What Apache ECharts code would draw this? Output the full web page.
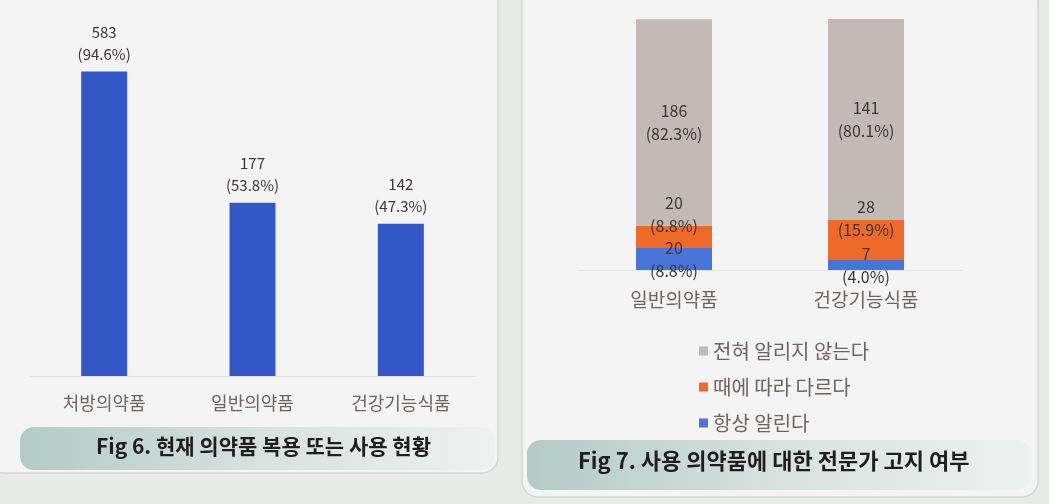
<!DOCTYPE html>
<html><head><meta charset="utf-8">
<script src="https://cdn.jsdelivr.net/npm/echarts@6/dist/echarts.min.js"></script>
<style>html,body{margin:0;padding:0;background:#e8eae8;}#c{width:1049px;height:504px;}</style>
</head><body><div id="c"></div>
<script>
// Fig 6 data
const fig6Categories = ['처방의약품', '일반의약품', '건강기능식품'];
const fig6Counts = [583, 177, 142];
const fig6Percents = [94.6, 53.8, 47.3];
// Fig 7 data
const fig7Categories = ['일반의약품', '건강기능식품'];
const fig7SeriesNames = ['항상 알린다', '때에 따라 다르다', '전혀 알리지 않는다'];
const fig7AlwaysCounts = [20, 7];
const fig7AlwaysPercents = [8.8, 4.0];
const fig7SometimesCounts = [20, 28];
const fig7SometimesPercents = [8.8, 15.9];
const fig7NeverCounts = [186, 141];
const fig7NeverPercents = [82.3, 80.1];
const fig6Title = 'Fig 6. 현재 의약품 복용 또는 사용 현황';
const fig7Title = 'Fig 7. 사용 의약품에 대한 전문가 고지 여부';

const FONT = '"Noto Sans CJK KR", "Noto Sans", sans-serif';
const labelColor = '#3d3535';
const catColor = '#6e6462';

function withLabels(counts, percents) {
  return percents.map((p, i) => ({ value: p, count: counts[i] }));
}
const fmt = p => p.data.count + '\n(' + p.data.value.toFixed(1) + '%)';

const chart = echarts.init(document.getElementById('c'));
const captionGrad = new echarts.graphic.LinearGradient(0, 0, 1, 0, [
  { offset: 0, color: '#b3cbc6' }, { offset: 0.5, color: '#d7e2df' }, { offset: 1, color: '#eef1ef' }
]);
chart.setOption({
  backgroundColor: '#e8eae8',
  textStyle: { fontFamily: FONT },
  graphic: [
    { type: 'rect', z: -10, shape: { x: -12, y: -14, width: 510, height: 487, r: 16 },
      style: { fill: '#f3f4f3', stroke: '#d3d6d3', lineWidth: 1.5 } },
    { type: 'rect', z: -10, shape: { x: 522, y: -14, width: 516, height: 511, r: 16 },
      style: { fill: '#f3f4f3', stroke: '#d3d6d3', lineWidth: 1.5 } },
    { type: 'rect', z: -5, shape: { x: 20, y: 427, width: 474, height: 43, r: 14 },
      style: { fill: captionGrad } },
    { type: 'rect', z: -5, shape: { x: 527, y: 440, width: 504, height: 50, r: 14 },
      style: { fill: captionGrad } },
    { type: 'text', left: 96, top: 436, z: 5,
      style: { text: fig6Title, font: 'bold 21px ' + FONT, fill: '#1e1e1e' } },
    { type: 'text', left: 578, top: 450, z: 5,
      style: { text: fig7Title, font: 'bold 22px ' + FONT, fill: '#1e1e1e' } }
  ],
  legend: {
    orient: 'vertical', left: 694, top: 336, itemGap: 16,
    itemWidth: 9, itemHeight: 9, icon: 'rect',
    data: ['전혀 알리지 않는다', '때에 따라 다르다', '항상 알린다'],
    textStyle: { fontSize: 20, color: catColor, fontFamily: FONT }
  },
  grid: [
    { left: 30, top: 54, width: 445, height: 322 },
    { left: 578, top: 19, width: 384, height: 251 }
  ],
  xAxis: [
    { type: 'category', gridIndex: 0, data: fig6Categories,
      axisLine: { lineStyle: { color: '#e2e2e2' } }, axisTick: { show: false },
      axisLabel: { margin: 18, fontSize: 18, color: catColor, fontFamily: FONT } },
    { type: 'category', gridIndex: 1, data: fig7Categories,
      axisLine: { lineStyle: { color: '#e2e2e2' } }, axisTick: { show: false },
      axisLabel: { margin: 20, fontSize: 19, color: catColor, fontFamily: FONT } }
  ],
  yAxis: [
    { type: 'value', gridIndex: 0, min: 0, max: 100, show: false },
    { type: 'value', gridIndex: 1, min: 0, max: 100, show: false }
  ],
  series: [
    { type: 'bar', xAxisIndex: 0, yAxisIndex: 0, barWidth: 46,
      data: withLabels(fig6Counts, fig6Percents),
      itemStyle: { color: '#3457c6' },
      label: { show: true, position: 'top', distance: 6, formatter: fmt,
        fontSize: 15, lineHeight: 22, color: labelColor, fontFamily: FONT } },
    { name: '항상 알린다', type: 'bar', stack: 's', xAxisIndex: 1, yAxisIndex: 1, barWidth: 76,
      data: withLabels(fig7AlwaysCounts, fig7AlwaysPercents),
      itemStyle: { color: '#4a74d8' },
      label: { show: true, position: 'inside', formatter: fmt,
        fontSize: 16, lineHeight: 23, color: labelColor, fontFamily: FONT } },
    { name: '때에 따라 다르다', type: 'bar', stack: 's', xAxisIndex: 1, yAxisIndex: 1,
      data: withLabels(fig7SometimesCounts, fig7SometimesPercents),
      itemStyle: { color: '#ee6a2b' },
      label: { show: true, position: 'inside', offset: [0, -22], formatter: fmt,
        fontSize: 16, lineHeight: 23, color: labelColor, fontFamily: FONT } },
    { name: '전혀 알리지 않는다', type: 'bar', stack: 's', xAxisIndex: 1, yAxisIndex: 1,
      data: withLabels(fig7NeverCounts, fig7NeverPercents),
      itemStyle: { color: '#c3b9b6' },
      label: { show: true, position: 'inside', formatter: fmt,
        fontSize: 16, lineHeight: 23, color: labelColor, fontFamily: FONT } }
  ]
});
</script></body></html>
